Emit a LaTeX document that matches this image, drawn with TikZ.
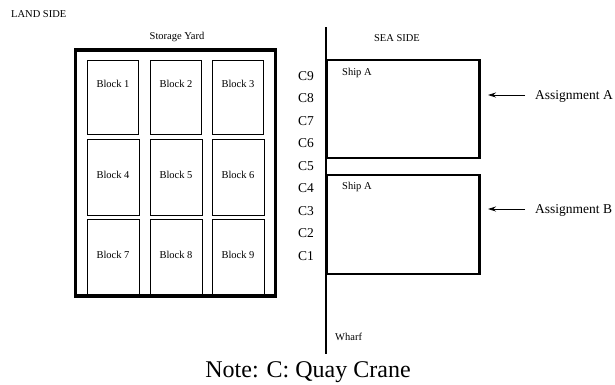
\documentclass[tikz,border=0pt]{standalone}
\usepackage{fontspec}
\setmainfont{Liberation Serif}
\usetikzlibrary{arrows.meta}
\begin{document}
\begin{tikzpicture}[x=1pt,y=-1pt,
  smalltxt/.style={font=\fontsize{10.5}{12}\selectfont, inner sep=0pt},
  cranetxt/.style={font=\fontsize{13.5}{15}\selectfont, inner sep=0pt},
  yardframe/.style={draw, line width=3.8pt, inner sep=0pt},
  blockA/.style={draw, line width=1.6pt, minimum width=51pt, minimum height=74pt, inner sep=0pt},
  blockB/.style={draw, line width=0.9pt, minimum width=52pt, minimum height=76pt, inner sep=0pt},
  shipbox/.style={draw, line width=2.4pt, inner sep=0pt},
  assignarrow/.style={-{Stealth[length=8pt,width=5pt]}, line width=0.8pt}
]
\useasboundingbox (0,0) rectangle (615,384);

\node[smalltxt, anchor=west] (land) at (11,14) {LAND SIDE};
\node[smalltxt] (yardlbl) at (177,37) {Storage Yard};

% yard frame
\node[yardframe, minimum width=200pt, minimum height=246pt] (yard) at (175.5,173) {};

% blocks
\node[blockA] (b1) at (113,97.5) {};
\node[blockA] (b2) at (176,97.5) {};
\node[blockA] (b3) at (238,97.5) {};
\node[blockB] (b4) at (113,177.5) {};
\node[blockB] (b5) at (176,177.5) {};
\node[blockB] (b6) at (238,177.5) {};
\node[blockB] (b7) at (113,257.5) {};
\node[blockB] (b8) at (176,257.5) {};
\node[blockB] (b9) at (238,257.5) {};
\node[smalltxt] (l1) at (113,84) {Block 1};
\node[smalltxt] (l2) at (176,84) {Block 2};
\node[smalltxt] (l3) at (238,84) {Block 3};
\node[smalltxt] (l4) at (113,175) {Block 4};
\node[smalltxt] (l5) at (176,175) {Block 5};
\node[smalltxt] (l6) at (238,175) {Block 6};
\node[smalltxt] (l7) at (113,255) {Block 7};
\node[smalltxt] (l8) at (176,255) {Block 8};
\node[smalltxt] (l9) at (238,255) {Block 9};

% wharf line
\coordinate (wtop) at (326,27);
\coordinate (wbot) at (326,354);
\draw[line width=2pt] (wtop) -- (wbot);
\node[smalltxt] (sea) at (397,38) {SEA SIDE};
\node[smalltxt, anchor=west] (wharf) at (335,337) {Wharf};

% ships
\node[shipbox, minimum width=153pt, minimum height=98pt] (shipA1) at (403,109) {};
\node[shipbox, minimum width=153pt, minimum height=99pt] (shipA2) at (403,224.5) {};
\node[smalltxt, anchor=west] (s1) at (342,73) {Ship A};
\node[smalltxt, anchor=west] (s2) at (342,187) {Ship A};

% cranes
\foreach \k in {1,...,9}{
  \node[cranetxt] (c\k) at (306,{76+22.5*(9-\k)}) {C\k};
}

% assignments
\node[cranetxt, anchor=west] (asgA) at (535,96) {Assignment A};
\node[cranetxt, anchor=west] (asgB) at (535,210) {Assignment B};
\coordinate (arA) at (488,95);
\coordinate (arB) at (488,209);
\draw[assignarrow] (asgA.west |- arA) ++(-10,0) -- (arA);
\draw[assignarrow] (asgB.west |- arB) ++(-10,0) -- (arB);

\node[font=\fontsize{24}{26}\selectfont, inner sep=0pt, anchor=base] (note) at (308,377) {Note: C: Quay Crane};
\end{tikzpicture}
\end{document}
